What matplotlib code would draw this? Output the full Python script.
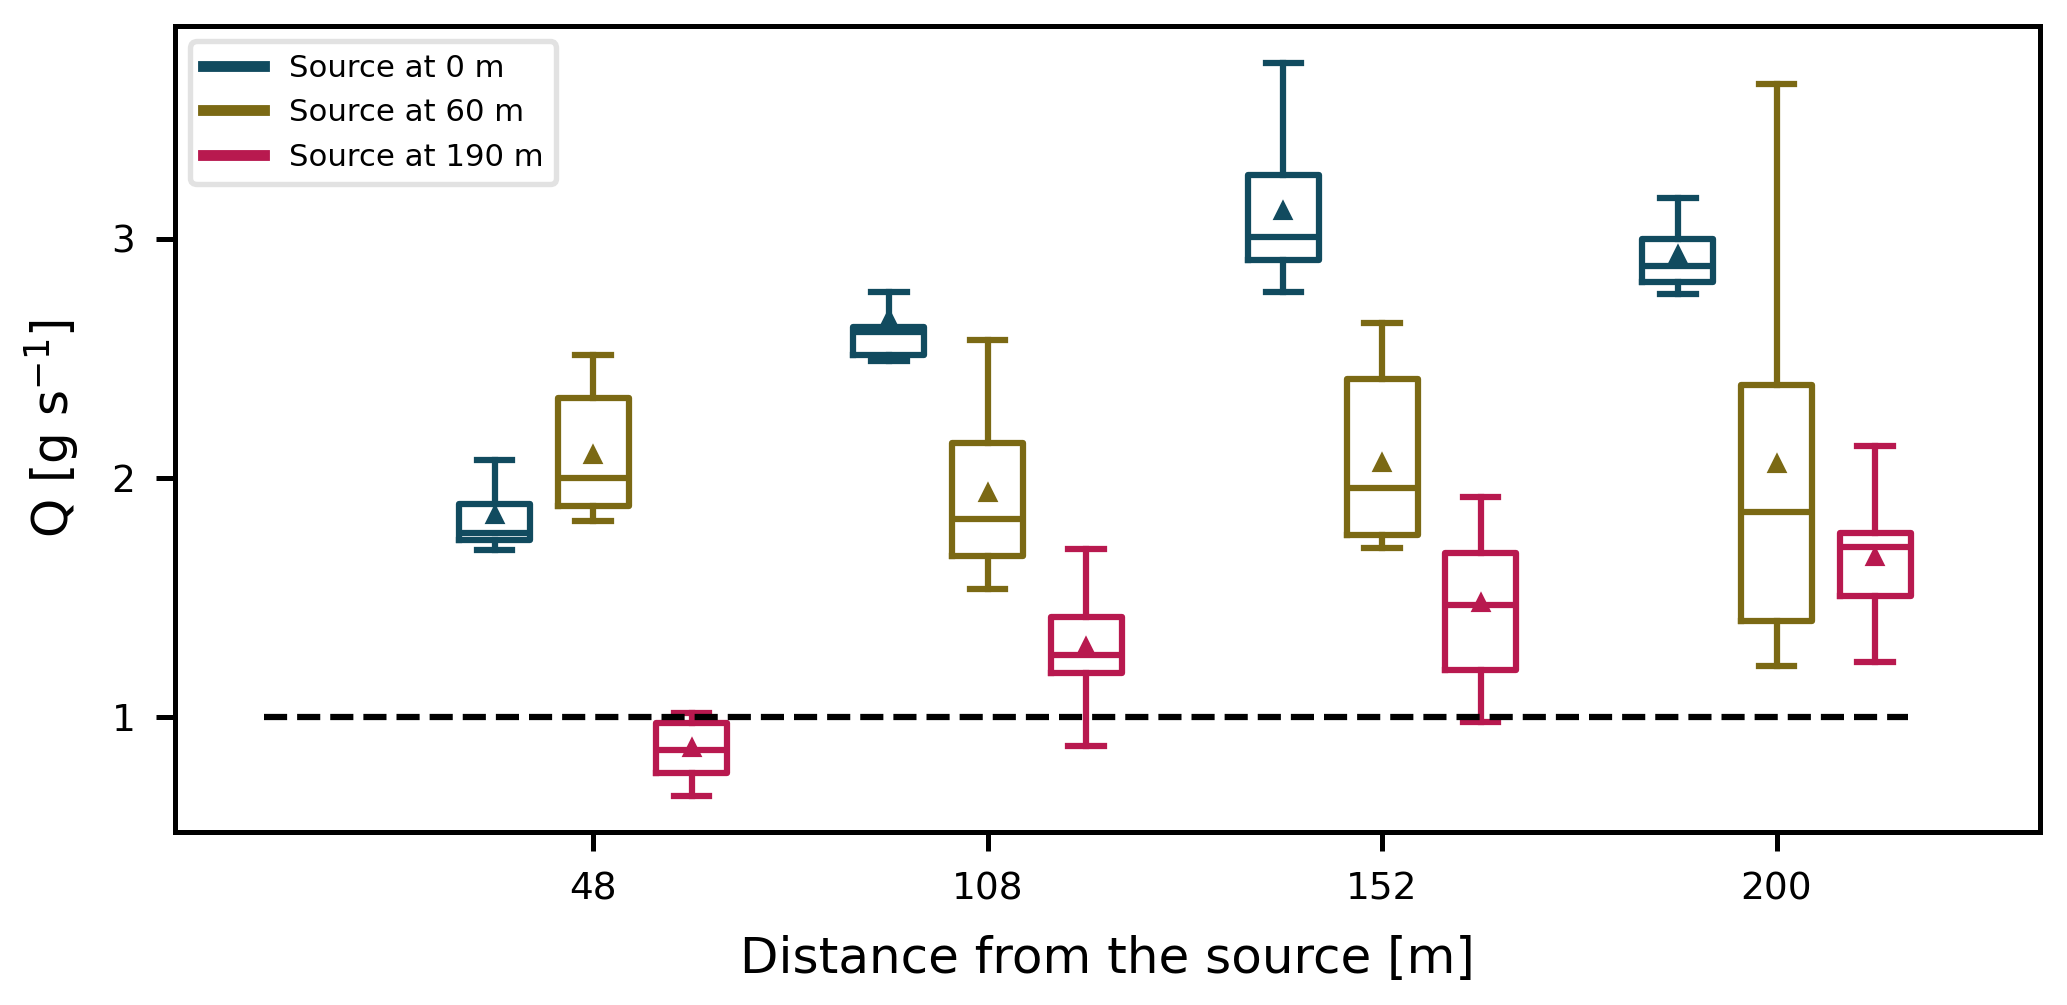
import matplotlib
matplotlib.use("Agg")
import matplotlib.pyplot as plt
from matplotlib.lines import Line2D

# ---- data ----
distances = ["48", "108", "152", "200"]
series_labels = ["Source at 0 m", "Source at 60 m", "Source at 190 m"]
colors = ["#114B5F", "#7B6914", "#B8194F"]

# Source at 0 m
s0_whislo = [1.70, 2.49, 2.78, 2.77]
s0_q1     = [1.74, 2.515, 2.91, 2.82]
s0_med    = [1.77, 2.61, 3.01, 2.885]
s0_q3     = [1.89, 2.63, 3.268, 3.00]
s0_whishi = [2.075, 2.78, 3.738, 3.173]
s0_mean   = [1.845, 2.665, 3.118, 2.933]

# Source at 60 m
s60_whislo = [1.82, 1.534, 1.706, 1.215]
s60_q1     = [1.883, 1.674, 1.762, 1.403]
s60_med    = [2.00, 1.827, 1.96, 1.856]
s60_q3     = [2.333, 2.145, 2.414, 2.389]
s60_whishi = [2.515, 2.577, 2.65, 3.649]
s60_mean   = [2.096, 1.936, 2.064, 2.059]

# Source at 190 m
s190_whislo = [0.67, 0.88, 0.98, 1.229]
s190_q1     = [0.767, 1.183, 1.197, 1.508]
s190_med    = [0.86, 1.259, 1.469, 1.71]
s190_q3     = [0.974, 1.42, 1.685, 1.768]
s190_whishi = [1.015, 1.704, 1.919, 2.135]
s190_mean   = [0.87, 1.294, 1.477, 1.67]

threshold = 1.0

series = [
    (s0_whislo, s0_q1, s0_med, s0_q3, s0_whishi, s0_mean),
    (s60_whislo, s60_q1, s60_med, s60_q3, s60_whishi, s60_mean),
    (s190_whislo, s190_q1, s190_med, s190_q3, s190_whishi, s190_mean),
]

fig = plt.figure(figsize=(2067 / 300, 1005 / 300), dpi=300)
ax = fig.add_axes([175 / 2067, 1 - 832 / 1005, (2040 - 175) / 2067, (832 - 26) / 1005])

offsets = [-0.25, 0.0, 0.25]
width = 0.18
lw = 1.5
for (wl, q1, md, q3, wh, mn), off, col in zip(series, offsets, colors):
    stats = []
    for i in range(len(distances)):
        stats.append(dict(whislo=wl[i], q1=q1[i], med=md[i], q3=q3[i],
                          whishi=wh[i], mean=mn[i], fliers=[]))
    pos = [i + off for i in range(len(distances))]
    ax.bxp(stats, positions=pos, widths=width, showmeans=True, showfliers=False,
           manage_ticks=False,
           boxprops=dict(color=col, linewidth=lw),
           medianprops=dict(color=col, linewidth=lw),
           whiskerprops=dict(color=col, linewidth=lw),
           capprops=dict(color=col, linewidth=lw),
           meanprops=dict(marker="^", markerfacecolor=col, markeredgecolor=col,
                          markersize=3.5))

ax.hlines(threshold, -0.834, 3.333, colors="black", linestyles="--", linewidth=lw)

ax.set_xticks(range(len(distances)))
ax.set_xticklabels(distances)
ax.set_xlim(-1.06, 3.668)
ax.set_ylim(0.519, 3.891)
ax.set_yticks([1, 2, 3])
ax.tick_params(labelsize=9, width=1.2, length=4.5, pad=5)
for s in ax.spines.values():
    s.set_linewidth(1.2)

ax.set_xlabel("Distance from the source [m]", fontsize=12, labelpad=6.5)
ax.set_ylabel(r"Q [g s$^{-1}$]", fontsize=12, labelpad=7)

handles = [Line2D([0], [0], color=c, lw=2.6) for c in colors]
leg = ax.legend(handles, series_labels, loc="upper left", fontsize=7.4)
leg.get_frame().set_edgecolor("0.86")
leg.get_frame().set_linewidth(1.3)

fig.savefig("out.png", dpi=300)
